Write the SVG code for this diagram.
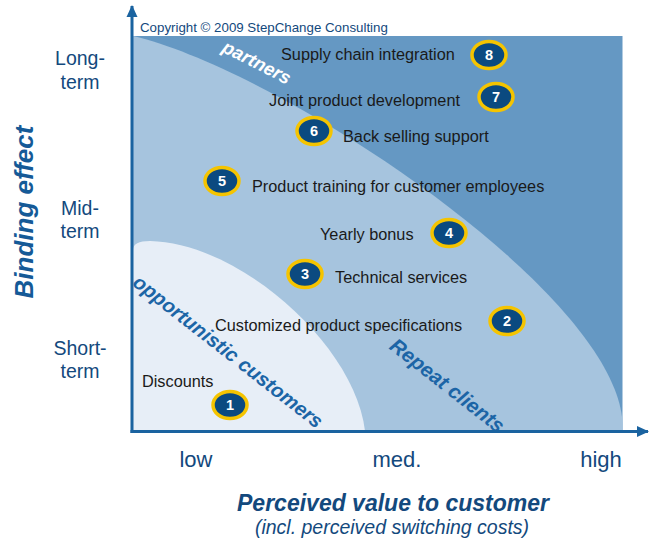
<svg xmlns="http://www.w3.org/2000/svg" width="655" height="542" viewBox="0 0 655 542">
<defs>
<style>
.lbl{font-family:"Liberation Sans",Arial,sans-serif;font-size:16.3px;fill:#1a1a1a}
.num{font-family:"Liberation Sans",Arial,sans-serif;font-size:14.5px;font-weight:bold;fill:#ffffff;text-anchor:middle}
.bub{fill:#0b4a80;stroke:#f5c400;stroke-width:3.5}
.ax{font-family:"Liberation Sans",Arial,sans-serif;fill:#13497d;text-anchor:middle}
.seg{font-family:"Liberation Sans",Arial,sans-serif;font-weight:bold;font-style:italic;text-anchor:middle}
.axis{stroke:#1a63a0;stroke-width:3;fill:none}
</style>
<marker id="arr" markerUnits="userSpaceOnUse" markerWidth="12" markerHeight="12" viewBox="0 0 12 12" refX="11" refY="6" orient="auto">
<path d="M0,0.5 L12,6 L0,11.5 Z" fill="#1a63a0"/>
</marker>
</defs>
<rect width="655" height="542" fill="#ffffff"/>
<g id="regions">
<rect x="133" y="36" width="489.5" height="395" fill="#6598c3"/>
<path d="M133,36 C280,70 630,300 622.5,431 L133,431 Z" fill="#a6c4de"/>
<path d="M133,431 L133,250 Q133,241 150,241 C240,243 355,345 365,431 Z" fill="#e7eef7"/>
</g>
<text x="140" y="32" font-family="Liberation Sans,Arial,sans-serif" font-size="13.3" fill="#13497d">Copyright © 2009 StepChange Consulting</text>
<g id="segment-labels">
<text class="seg" x="254" y="68" font-size="18.5" fill="#ffffff" transform="rotate(27 254 68)">partners</text>
<text class="seg" x="224" y="357" font-size="20" fill="#1c65a6" transform="rotate(38 224 357)">opportunistic customers</text>
<text class="seg" x="443" y="391" font-size="20.5" fill="#1c65a6" transform="rotate(38 443 391)">Repeat clients</text>
</g>
<g id="connectors">
<line class="axis" x1="132" y1="433" x2="132" y2="6" marker-end="url(#arr)"/>
<line class="axis" x1="130.5" y1="431.5" x2="648" y2="431.5" marker-end="url(#arr)"/>
</g>
<g id="node-1"><ellipse class="bub" cx="230" cy="405" rx="17" ry="13.5"/><text class="num" x="230" y="410">1</text><text class="lbl" x="142" y="387">Discounts</text></g>
<g id="node-2"><ellipse class="bub" cx="507" cy="321" rx="17" ry="13.5"/><text class="num" x="507" y="326">2</text><text class="lbl" x="215" y="331">Customized product specifications</text></g>
<g id="node-3"><ellipse class="bub" cx="305" cy="274" rx="17" ry="13.5"/><text class="num" x="305" y="279">3</text><text class="lbl" x="335" y="283">Technical services</text></g>
<g id="node-4"><ellipse class="bub" cx="449" cy="233" rx="17" ry="13.5"/><text class="num" x="449" y="238">4</text><text class="lbl" x="320" y="240">Yearly bonus</text></g>
<g id="node-5"><ellipse class="bub" cx="222" cy="181" rx="17" ry="13.5"/><text class="num" x="222" y="186">5</text><text class="lbl" x="252" y="192">Product training for customer employees</text></g>
<g id="node-6"><ellipse class="bub" cx="314" cy="131" rx="17" ry="13.5"/><text class="num" x="314" y="136">6</text><text class="lbl" x="343" y="142">Back selling support</text></g>
<g id="node-7"><ellipse class="bub" cx="496" cy="97" rx="17" ry="13.5"/><text class="num" x="496" y="102">7</text><text class="lbl" x="269" y="106">Joint product development</text></g>
<g id="node-8"><ellipse class="bub" cx="489" cy="55" rx="17" ry="13.5"/><text class="num" x="489" y="60">8</text><text class="lbl" x="281" y="60">Supply chain integration</text></g>
<g id="y-axis-labels">
<text class="ax" font-size="19.5" x="80" y="65">Long-</text>
<text class="ax" font-size="19.5" x="80" y="89">term</text>
<text class="ax" font-size="19.5" x="80" y="215">Mid-</text>
<text class="ax" font-size="19.5" x="80" y="238">term</text>
<text class="ax" font-size="19.5" x="80" y="355">Short-</text>
<text class="ax" font-size="19.5" x="80" y="378">term</text>
<text class="seg" x="33" y="212" font-size="26" fill="#155a97" transform="rotate(-90 33 212)">Binding effect</text>
</g>
<g id="x-axis-labels">
<text class="ax" font-size="22" x="196" y="467">low</text>
<text class="ax" font-size="22" x="397" y="467">med.</text>
<text class="ax" font-size="22" x="601" y="467">high</text>
<text class="seg" x="393" y="511" font-size="23" fill="#13497d">Perceived value to customer</text>
<text x="392" y="534" font-family="Liberation Sans,Arial,sans-serif" font-size="19.5" font-style="italic" fill="#13497d" text-anchor="middle">(incl. perceived switching costs)</text>
</g>
</svg>
